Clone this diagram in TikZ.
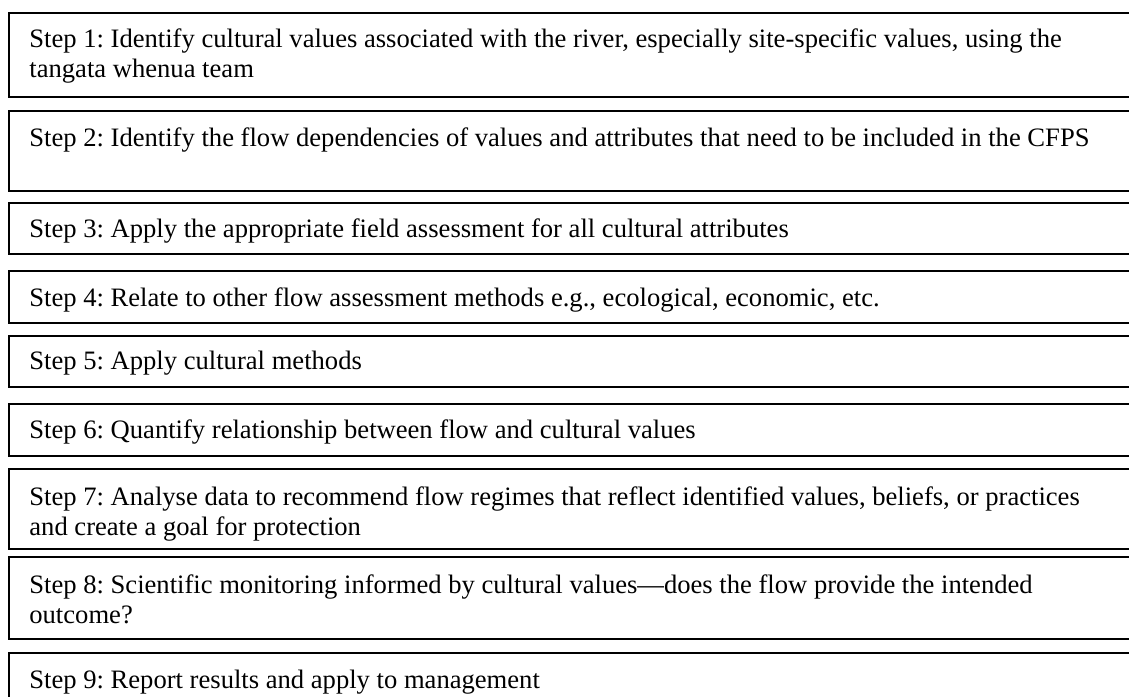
\documentclass[tikz,border=0pt]{standalone}
\usepackage{fontspec}
\setmainfont{Liberation Serif}
\frenchspacing
\begin{document}
\begin{tikzpicture}[x=0.5pt,y=-0.5pt,
  stepframe/.style={draw,line width=0.8pt},
  steptext/.style={anchor=base west,inner sep=0pt,align=left,
    font=\fontsize{13.3}{15}\selectfont}]
  \useasboundingbox (0,0) rectangle (1129,696);
  \clip (0,0) rectangle (1129,696);
  \def\xl{9}
  \def\xr{1150}
  \def\xt{29}
  % frames, top/bottom in pixels
  \foreach \t/\b in {13/97,111/191,203/254,271/323,336/387,404/456,469/549,557/639,653/720}
    \draw[stepframe] (\xl,\t) rectangle (\xr,\b);
  % texts, placed at the baseline of their last line
  \node[steptext] (step1) at (\xt,77) {Step 1: Identify cultural values associated with the river, especially site-specific values, using the\\tangata whenua team};
  \node[steptext] (step2) at (\xt,146) {Step 2: Identify the flow dependencies of values and attributes that need to be included in the CFPS};
  \node[steptext] (step3) at (\xt,237) {Step 3: Apply the appropriate field assessment for all cultural attributes};
  \node[steptext] (step4) at (\xt,306) {Step 4: Relate to other flow assessment methods e.g., ecological, economic, etc.};
  \node[steptext] (step5) at (\xt,369) {Step 5: Apply cultural methods};
  \node[steptext] (step6) at (\xt,438) {Step 6: Quantify relationship between flow and cultural values};
  \node[steptext] (step7) at (\xt,535) {Step 7: Analyse data to recommend flow regimes that reflect identified values, beliefs, or practices\\and create a goal for protection};
  \node[steptext] (step8) at (\xt,623) {Step 8: Scientific monitoring informed by cultural values---does the flow provide the intended\\outcome?};
  \node[steptext] (step9) at (\xt,688) {Step 9: Report results and apply to management};
\end{tikzpicture}
\end{document}
